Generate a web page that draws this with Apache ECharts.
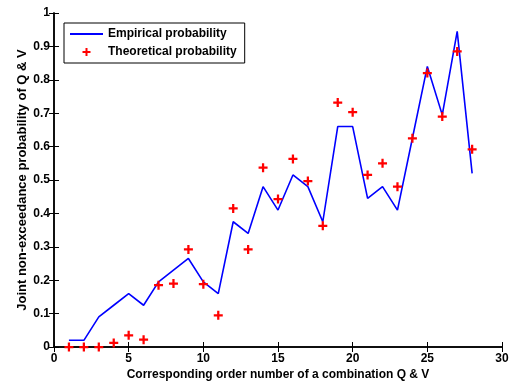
<!DOCTYPE html>
<html>
<head>
<meta charset="utf-8">
<script src="https://cdn.jsdelivr.net/npm/echarts@6/dist/echarts.min.js"></script>
<style>
  html, body { margin: 0; padding: 0; background: #fff; }
  #chart { width: 509px; height: 382px; }
</style>
</head>
<body>
<div id="chart"></div>
<script>
// Order numbers of the Q & V combinations
const orderNumbers = [1, 2, 3, 4, 5, 6, 7, 8, 9, 10, 11, 12, 13, 14, 15, 16, 17, 18, 19, 20, 21, 22, 23, 24, 25, 26, 27, 28];
// Empirical joint non-exceedance probability
const empirical = [0.02, 0.02, 0.09, 0.125, 0.16, 0.125, 0.195, 0.23, 0.265, 0.195, 0.16, 0.375, 0.34, 0.48, 0.41, 0.515, 0.48, 0.375, 0.66, 0.66, 0.445, 0.48, 0.41, 0.625, 0.84, 0.695, 0.945, 0.52];
// Theoretical joint non-exceedance probability
const theoretical = [0.0, 0.0, 0.0, 0.012, 0.035, 0.022, 0.185, 0.19, 0.292, 0.188, 0.095, 0.415, 0.292, 0.537, 0.443, 0.563, 0.497, 0.363, 0.732, 0.703, 0.515, 0.55, 0.48, 0.625, 0.82, 0.69, 0.885, 0.592];

const font = 'Liberation Sans, Arial, sans-serif';
const plusSymbol = 'path://M3,0H5V3H8V5H5V8H3V5H0V3H3Z';
// Legend variant: a small plus centred in a 33x14 box (tiny corner specks fix the box size)
const plusLegendIcon = 'path://M0,0H0.01V0.01Z M33,14H32.99V13.99Z M15.5,3H17.5V6H20.5V8H17.5V11H15.5V8H12.5V6H15.5Z';

const chart = echarts.init(document.getElementById('chart'), null, { renderer: 'canvas' });

const tickStyle = { show: true, inside: true, length: 5, lineStyle: { color: '#000', width: 1 } };
const lineStyle = { show: true, lineStyle: { color: '#000', width: 1.5 } };

chart.setOption({
  animation: false,
  backgroundColor: '#fff',
  grid: { left: 54, right: 7, top: 13, bottom: 35, containLabel: false, outerBoundsMode: 'none' },
  legend: {
    left: 64, top: 23, orient: 'vertical',
    padding: [5, 8, 4, 6],
    itemGap: 5,
    itemWidth: 33, itemHeight: 14,
    backgroundColor: '#fff',
    borderColor: '#000', borderWidth: 1,
    textStyle: { fontFamily: font, fontWeight: 'bold', fontSize: 12, color: '#000' },
    data: [
      { name: 'Empirical probability', icon: 'path://M0,0H33V2H0Z', itemStyle: { color: '#0000ff' } },
      { name: 'Theoretical probability', icon: plusLegendIcon, itemStyle: { color: '#ff0000', opacity: 1 } }
    ]
  },
  xAxis: [
    {
      type: 'value', min: 0, max: 30, interval: 5, position: 'bottom',
      name: 'Corresponding order number of a combination Q & V',
      nameLocation: 'middle', nameGap: 22, nameMoveOverlap: false,
      nameTextStyle: { fontFamily: font, fontWeight: 'bold', fontSize: 12, color: '#000' },
      axisLine: lineStyle, axisTick: tickStyle,
      axisLabel: { fontFamily: font, fontWeight: 'bold', fontSize: 12, color: '#000', margin: 6 },
      splitLine: { show: false }
    },
    {
      type: 'value', min: 0, max: 30, interval: 5, position: 'top',
      axisLine: lineStyle, axisTick: tickStyle, axisLabel: { show: false }, splitLine: { show: false }
    }
  ],
  yAxis: [
    {
      type: 'value', min: 0, max: 1, interval: 0.1, position: 'left',
      name: 'Joint non-exceedance probability of Q & V',
      nameLocation: 'middle', nameGap: 25, nameRotate: 90, nameMoveOverlap: false,
      nameTextStyle: { fontFamily: font, fontWeight: 'bold', fontSize: 13, color: '#000' },
      axisLine: lineStyle, axisTick: tickStyle,
      axisLabel: {
        fontFamily: font, fontWeight: 'bold', fontSize: 12, color: '#000', margin: 4,
        formatter: v => (Math.round(v * 10) / 10).toString()
      },
      splitLine: { show: false }
    },
    {
      type: 'value', min: 0, max: 1, interval: 0.1, position: 'right',
      axisLine: lineStyle, axisTick: tickStyle, axisLabel: { show: false }, splitLine: { show: false }
    }
  ],
  series: [
    {
      name: 'Empirical probability',
      type: 'line',
      data: orderNumbers.map((x, i) => [x, empirical[i]]),
      showSymbol: false,
      symbol: 'none',
      lineStyle: { color: '#0000ff', width: 1.6 },
      itemStyle: { color: '#0000ff' },
      z: 2
    },
    {
      name: 'Theoretical probability',
      type: 'scatter',
      data: orderNumbers.map((x, i) => [x, theoretical[i]]),
      symbol: plusSymbol,
      symbolSize: 9,
      itemStyle: { color: '#ff0000', opacity: 1 },
      z: 3
    }
  ]
});
</script>
</body>
</html>
